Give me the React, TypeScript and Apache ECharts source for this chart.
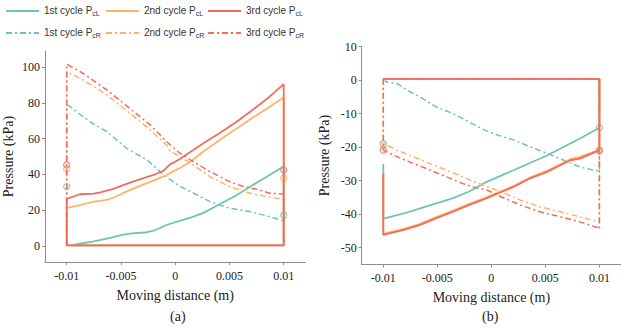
import React, { useEffect, useRef } from "react";
import * as echarts from "echarts";

const TEAL = "#6cc5b7";
const ORANGE = "#fcb467";
const RED = "#f46b5c";

const seriesNames = [
  "1st cycle PcL",
  "2nd cycle PcL",
  "3rd cycle PcL",
  "1st cycle PcR",
  "2nd cycle PcR",
  "3rd cycle PcR",
];

const xTicks = [-0.01, -0.005, 0, 0.005, 0.01];
const yTicksA = [0, 20, 40, 60, 80, 100];
const yTicksB = [-50, -40, -30, -20, -10, 0, 10];

// ---- Chart (a) ----
const aL1: [number, number][] = [
  [-0.0095, 0.3], [-0.0094, 0.6], [-0.0085, 1.5], [-0.0076, 2.4], [-0.006, 4.5],
  [-0.0048, 6.3], [-0.004, 7], [-0.0028, 7.5], [-0.002, 8.5], [-0.0014, 10],
  [-0.0008, 11.7], [0.0004, 14], [0.0015, 16], [0.0026, 18.5], [0.004, 23],
  [0.0057, 28.5], [0.007, 33.5], [0.0087, 39.7], [0.01, 44.5], [0.01, 0.3], [-0.0095, 0.3],
];
const aL2: [number, number][] = [
  [-0.01, 0.3], [-0.01, 21.1], [-0.0092, 22.3], [-0.0085, 23.3], [-0.0075, 24.8],
  [-0.0063, 25.7], [-0.0055, 27.5], [-0.0045, 30.4], [-0.0035, 33], [-0.0026, 35.1],
  [-0.0015, 37.8], [-0.0008, 39.7], [0.0004, 43.5], [0.0015, 47.5], [0.0026, 52.8],
  [0.004, 58.8], [0.0057, 65.9], [0.007, 71.2], [0.0087, 77.9], [0.01, 83],
  [0.01, 0.3], [-0.01, 0.3],
];
const aL3: [number, number][] = [
  [-0.01, 0.3], [-0.01, 26.3], [-0.0093, 27.8], [-0.0088, 28.9], [-0.0075, 29.3],
  [-0.0069, 30], [-0.0057, 31.9], [-0.0048, 34], [-0.0039, 36], [-0.002, 39.7],
  [-0.0011, 42], [-0.0005, 45.5], [0.0004, 48.5], [0.0026, 57.5], [0.004, 62.8],
  [0.0057, 69.6], [0.007, 75.5], [0.0087, 83.5], [0.01, 90.5], [0.01, 0.3], [-0.01, 0.3],
];
const aR1: [number, number][] = [
  [-0.01, 0.3], [-0.01, 78.5], [-0.0098, 78.5], [-0.0085, 72.4], [-0.0075, 68],
  [-0.0063, 64], [-0.0045, 54.7], [-0.0026, 48.1], [-0.0008, 38.5], [0.0004, 33.5],
  [0.0014, 30.4], [0.0032, 24.8], [0.005, 21.1], [0.0069, 19.2], [0.0087, 16.4],
  [0.01, 14], [0.01, 0.3],
];
const aR2: [number, number][] = [
  [-0.01, 0.3], [-0.01, 97.5], [-0.0085, 92.9], [-0.0063, 84.5], [-0.0042, 74.3],
  [-0.0023, 64.9], [-0.0008, 56.5], [-0.0005, 53.5], [0.0004, 50], [0.0014, 46.3],
  [0.0032, 38.8], [0.005, 33.2], [0.0069, 29.5], [0.0087, 27.3], [0.01, 26.1], [0.01, 0.3],
];
const aR3: [number, number][] = [
  [-0.01, 0.3], [-0.01, 101.7], [-0.0085, 96.6], [-0.0063, 87.3], [-0.0042, 77],
  [-0.0023, 67.7], [-0.0008, 58.4], [0.0004, 52], [0.0014, 48.1], [0.0032, 41.6],
  [0.005, 36], [0.0063, 33.2], [0.0075, 31.7], [0.0087, 29.5], [0.01, 29], [0.01, 0.3],
];
const aMark1: [number, number][] = [[-0.01, 33.2], [0.01, 17.3]];
const aMark2: [number, number][] = [[-0.01, 43], [0.01, 37.9]];
const aMark3: [number, number][] = [[-0.01, 45.3], [0.01, 42.5]];

// ---- Chart (b) ----
const bL1: [number, number][] = [
  [-0.01, -25], [-0.01, -41.3], [-0.0081, -39.8], [-0.0066, -38.3], [-0.0051, -36.8],
  [-0.0036, -35.3], [-0.0021, -33.3], [-0.0006, -30.6], [0.0021, -26.8], [0.0052, -22.4],
  [0.0082, -17.4], [0.01, -14.2], [0.01, 0.4], [-0.01, 0.4],
];
const bL2: [number, number][] = [
  [-0.01, -28], [-0.01, -45.9], [-0.0081, -44.4], [-0.0066, -42.9], [-0.0051, -40.9],
  [-0.0036, -39], [-0.0021, -37], [-0.0007, -35.3], [0.0021, -31.5], [0.0036, -29],
  [0.0052, -27], [0.0073, -23.6], [0.0082, -22.9], [0.01, -20.8], [0.01, 0.4], [-0.01, 0.4],
];
const bL3: [number, number][] = [
  [-0.01, -28], [-0.01, -46.2], [-0.0081, -44.7], [-0.0066, -43.2], [-0.0051, -41.2],
  [-0.0036, -39.3], [-0.0021, -37.3], [-0.0007, -35.6], [0.0021, -31.8], [0.0036, -29.3],
  [0.0052, -27.3], [0.0073, -23.9], [0.0082, -23.4], [0.01, -20.9], [0.01, 0.4], [-0.01, 0.4],
];
const bR1: [number, number][] = [
  [-0.0098, 0.4], [-0.0098, -0.5], [-0.0087, -1], [-0.0078, -3], [-0.0066, -5],
  [-0.0051, -8], [-0.0036, -9.9], [-0.0021, -12.4], [-0.0006, -14.9], [0.0006, -16.4],
  [0.0021, -17.9], [0.0036, -19.9], [0.0052, -21.9], [0.0067, -23.9], [0.0082, -25.9],
  [0.0094, -26.8], [0.01, -27.1], [0.01, 0.4],
];
const bR2: [number, number][] = [
  [-0.01, 0.4], [-0.01, -18.9], [-0.0087, -20.9], [-0.0072, -22.9], [-0.0057, -24.9],
  [-0.0042, -26.8], [-0.0027, -28.8], [-0.0012, -30.8], [0.0009, -33.3], [0.0027, -35.8],
  [0.0045, -37.8], [0.0064, -39.3], [0.0082, -40.8], [0.0094, -41.8], [0.01, -42.3], [0.01, 0.4],
];
const bR3: [number, number][] = [
  [-0.01, 0.4], [-0.01, -20.9], [-0.0087, -22.9], [-0.0072, -24.9], [-0.0057, -26.8],
  [-0.0042, -28.8], [-0.0027, -30.8], [-0.0012, -32.3], [-0.0004, -32.8], [0.0009, -34.8],
  [0.0027, -37.3], [0.0045, -39.3], [0.0064, -40.8], [0.0082, -42.3], [0.0098, -44],
  [0.01, -44.5], [0.01, 0.4], [-0.01, 0.4],
];
const bMark1: [number, number][] = [[-0.01, -18.9], [0.01, -14.2]];
const bMark2: [number, number][] = [[-0.01, -19.5], [0.01, -21]];
const bMark3: [number, number][] = [[-0.01, -20.9], [0.01, -21]];

const SERIF = "Liberation Serif";
const SANS = "Liberation Sans";
const DASH = [6, 3, 2, 3];

function lineSeries(name: string, data: [number, number][], color: string, dashed: boolean, idx: number) {
  return {
    type: "line",
    name,
    data,
    xAxisIndex: idx,
    yAxisIndex: idx,
    symbol: "none",
    showSymbol: false,
    color,
    lineStyle: { color, width: dashed ? 1.5 : 1.8, type: dashed ? DASH : "solid" },
    silent: true,
  };
}

function markSeries(data: [number, number][], color: string, idx: number) {
  return {
    type: "scatter",
    name: "marker" + idx + color,
    data,
    xAxisIndex: idx,
    yAxisIndex: idx,
    symbol: "circle",
    symbolSize: 6,
    itemStyle: { color: "rgba(0,0,0,0)", borderColor: color, borderWidth: 1.3 },
    silent: true,
  };
}

function xAxis(idx: number) {
  return {
    type: "value",
    gridIndex: idx,
    min: -0.012,
    max: 0.012,
    name: "Moving distance (m)",
    nameLocation: "middle",
    nameGap: 26,
    nameTextStyle: { fontFamily: SERIF, fontSize: 14, color: "#222" },
    axisLine: { show: true, onZero: false, lineStyle: { color: "#8c8c8c", width: 1 } },
    axisTick: { show: true, customValues: xTicks, length: 3, lineStyle: { color: "#8c8c8c" } },
    axisLabel: {
      customValues: xTicks,
      margin: 8,
      fontFamily: SERIF,
      fontSize: 12,
      color: "#222",
      formatter: (v: number) => String(parseFloat(v.toFixed(4))),
    },
    splitLine: { show: false },
  };
}

function yAxis(idx: number, min: number, max: number, ticks: number[]) {
  return {
    type: "value",
    gridIndex: idx,
    min,
    max,
    name: "Pressure (kPa)",
    nameLocation: "middle",
    nameGap: 30,
    nameRotate: 90,
    nameTextStyle: { fontFamily: SERIF, fontSize: 14, color: "#222" },
    axisLine: { show: true, onZero: false, lineStyle: { color: "#8c8c8c", width: 1 } },
    axisTick: { show: true, customValues: ticks, length: 3, lineStyle: { color: "#8c8c8c" } },
    axisLabel: { customValues: ticks, margin: 5, fontFamily: SERIF, fontSize: 12, color: "#222" },
    splitLine: { show: false },
  };
}

const colors = [TEAL, ORANGE, RED];
const legendLefts = [5, 105, 207];

export default function App() {
  const ref = useRef<HTMLDivElement>(null);
  useEffect(() => {
    if (!ref.current) return;
    const chart = echarts.init(ref.current, null, { renderer: "svg" });
    const legends = seriesNames.map((n, i) => ({
      data: [n],
      left: legendLefts[i % 3],
      top: i < 3 ? 4 : 26,
      padding: 0,
      itemWidth: 33,
      itemHeight: 14,
      itemGap: 0,
      selectedMode: false,
      itemStyle: { opacity: 0 },
      formatter: (name: string) => {
        const m = name.match(/^(.*P)(c[LR])$/);
        return m ? `{m|${m[1]}}{s|${m[2]}}` : name;
      },
      textStyle: {
        rich: {
          m: { fontSize: 10, fontFamily: SANS, color: "#333", lineHeight: 12, verticalAlign: "top" },
          s: { fontSize: 7, fontFamily: SANS, color: "#333", lineHeight: 8, padding: [6, 0, 0, 0], verticalAlign: "bottom" },
        },
      },
    }));
    const aL = [aL1, aL2, aL3];
    const aR = [aR1, aR2, aR3];
    const bL = [bL1, bL2, bL3];
    const bR = [bR1, bR2, bR3];
    const aM = [aMark1, aMark2, aMark3];
    const bM = [bMark1, bMark2, bMark3];
    const series: any[] = [];
    for (let i = 0; i < 3; i++) {
      series.push(lineSeries(seriesNames[i], aL[i], colors[i], false, 0));
      series.push(lineSeries(seriesNames[i + 3], aR[i], colors[i], true, 0));
      series.push(lineSeries(seriesNames[i], bL[i], colors[i], false, 1));
      series.push(lineSeries(seriesNames[i + 3], bR[i], colors[i], true, 1));
    }
    for (let i = 0; i < 3; i++) {
      series.push(markSeries(aM[i], colors[i], 0));
      series.push(markSeries(bM[i], colors[i], 1));
    }
    chart.setOption({
      animation: false,
      backgroundColor: "#ffffff",
      legend: legends,
      grid: [
        { left: 45, top: 51.1, width: 260.4, height: 210.9 },
        { left: 361.7, top: 46.7, width: 265.3, height: 217.7 },
      ],
      xAxis: [xAxis(0), xAxis(1)],
      yAxis: [yAxis(0, -9, 109, yTicksA), yAxis(1, -55, 10, yTicksB)],
      series,
      graphic: [
        { type: "text", left: 170, top: 309, style: { text: "(a)", font: `14px "${SERIF}"`, fill: "#222" } },
        { type: "text", left: 482, top: 309, style: { text: "(b)", font: `14px "${SERIF}"`, fill: "#222" } },
      ],
    });
    return () => chart.dispose();
  }, []);
  return (
    <div
      ref={ref}
      style={{ position: "absolute", left: 0, top: 0, width: 621, height: 331 }}
    />
  );
}
